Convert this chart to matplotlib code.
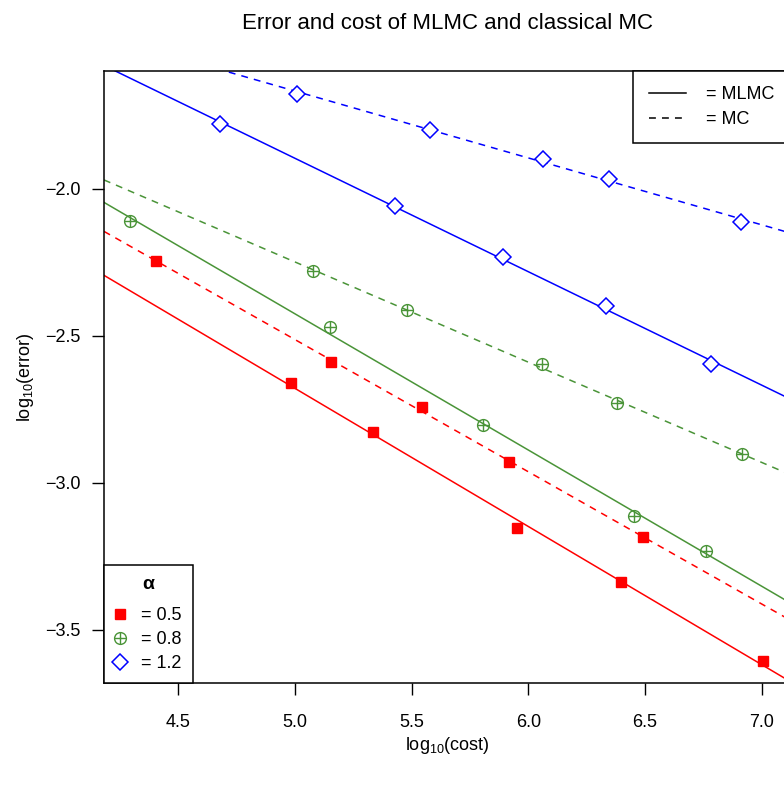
import numpy as np
import matplotlib
matplotlib.use("Agg")
import matplotlib.pyplot as plt
from matplotlib.lines import Line2D
from matplotlib.legend_handler import HandlerTuple

plt.rcParams['font.family'] = ['Liberation Sans', 'DejaVu Sans']
plt.rcParams['mathtext.fontset'] = 'custom'
plt.rcParams['mathtext.rm'] = 'Liberation Sans'

# data (log10 cost, log10 error)
cost_mlmc_05 = [4.984, 5.336, 5.953, 6.399, 7.007]
err_mlmc_05 = [-2.662, -2.829, -3.155, -3.339, -3.607]
cost_mc_05 = [4.404, 5.156, 5.546, 5.919, 6.493]
err_mc_05 = [-2.246, -2.590, -2.744, -2.931, -3.186]

cost_mlmc_08 = [4.293, 5.150, 5.807, 6.452, 6.761]
err_mlmc_08 = [-2.110, -2.471, -2.804, -3.113, -3.233]
cost_mc_08 = [5.076, 5.482, 6.060, 6.379, 6.916]
err_mc_08 = [-2.279, -2.413, -2.597, -2.728, -2.903]

cost_mlmc_12 = [4.679, 5.429, 5.890, 6.332, 6.782]
err_mlmc_12 = [-1.780, -2.059, -2.233, -2.400, -2.597]
cost_mc_12 = [5.010, 5.579, 6.062, 6.347, 6.912]
err_mc_12 = [-1.677, -1.800, -1.900, -1.966, -2.114]

alphas = ["0.5", "0.8", "1.2"]
colors = ["#FF0000", "#4A9438", "#0000FF"]

xticks = [4.5, 5.0, 5.5, 6.0, 6.5, 7.0]
yticks = [-3.5, -3.0, -2.5, -2.0]

fig = plt.figure(figsize=(7.84, 7.85), dpi=100)
ax = fig.add_axes([104 / 784, 1 - 683.3 / 785, 686 / 784, (683.3 - 71) / 785])
xlim = (4.182, 7.122)
ax.set_xlim(*xlim)
ax.set_ylim(-3.682, -1.600)

groups = [
    (cost_mlmc_05, err_mlmc_05, cost_mc_05, err_mc_05),
    (cost_mlmc_08, err_mlmc_08, cost_mc_08, err_mc_08),
    (cost_mlmc_12, err_mlmc_12, cost_mc_12, err_mc_12),
]

xx = np.array(xlim)
for i, (cm, em, cc, ec) in enumerate(groups):
    col = colors[i]
    # fitted lines
    b, a = np.polyfit(cm, em, 1)
    ax.plot(xx, a + b * xx, color=col, lw=1.1)
    b, a = np.polyfit(cc, ec, 1)
    ax.plot(xx, a + b * xx, color=col, lw=1.1, dashes=(4.5, 4))
    # points
    for cx, ey in [(cm, em), (cc, ec)]:
        if i == 0:
            ax.plot(cx, ey, 's', color=col, ms=7.5, ls='none')
        elif i == 1:
            ax.plot(cx, ey, 'o', mfc='none', mec=col, ms=8.5, mew=1.0, ls='none')
            ax.plot(cx, ey, '+', color=col, ms=8.5, mew=1.0, ls='none')
        else:
            ax.plot(cx, ey, 'D', mfc='white', mec=col, ms=8, mew=1.1, ls='none')

ax.set_xticks(xticks)
ax.set_xticklabels([f"{v:.1f}" for v in xticks])
ax.set_yticks(yticks)
ax.set_yticklabels([f"\u2212{abs(v):.1f}" for v in yticks])
ax.tick_params(length=8.8, width=1, labelsize=13, direction='out')
ax.tick_params(axis='x', pad=13)
ax.tick_params(axis='y', pad=8)
for s in ax.spines.values():
    s.set_linewidth(1.1)
ax.spines['right'].set_visible(False)

ax.set_xlabel(r"$\mathrm{log}_{10}$(cost)", fontsize=13, labelpad=3)
ax.set_ylabel(r"$\mathrm{log}_{10}$(error)", fontsize=13, labelpad=6.5)
ax.set_title("Error and cost of MLMC and classical MC", fontsize=16, pad=30,
             x=(447 - 104) / 686)

# legend for alpha
h05 = Line2D([], [], marker='s', color=colors[0], ms=7.5, ls='none')
h08 = (Line2D([], [], marker='o', mfc='none', mec=colors[1], ms=8.5, ls='none'),
       Line2D([], [], marker='+', color=colors[1], ms=8.5, ls='none'))
h12 = Line2D([], [], marker='D', mfc='none', mec=colors[2], ms=8, mew=1.1, ls='none')
leg1 = ax.legend([h05, h08, h12], ["= " + a for a in alphas],
                 handler_map={tuple: HandlerTuple(ndivide=1)},
                 loc='lower left', borderaxespad=0, fancybox=False,
                 edgecolor='black', framealpha=1, fontsize=13,
                 title="\u03b1", title_fontproperties={'weight': 'bold', 'size': 14},
                 handlelength=0.6, handletextpad=0.86, labelspacing=0.4,
                 borderpad=0.6)
leg1._legend_box.sep = 10  # extra room under the alpha title
leg1.get_frame().set_linewidth(1.1)
ax.add_artist(leg1)

# legend for line type
hl = [Line2D([], [], color='black', lw=1.1),
      Line2D([], [], color='black', lw=1.1, dashes=(4.5, 4))]
leg2 = ax.legend(hl, ["= MLMC", "= MC"], loc='upper right', borderaxespad=0,
                 fancybox=False, edgecolor='black', framealpha=1, fontsize=13,
                 handlelength=2.1, handletextpad=1.1, labelspacing=0.42,
                 borderpad=0.85)
leg2.get_frame().set_linewidth(1.1)

fig.savefig("out.png", dpi=100)
